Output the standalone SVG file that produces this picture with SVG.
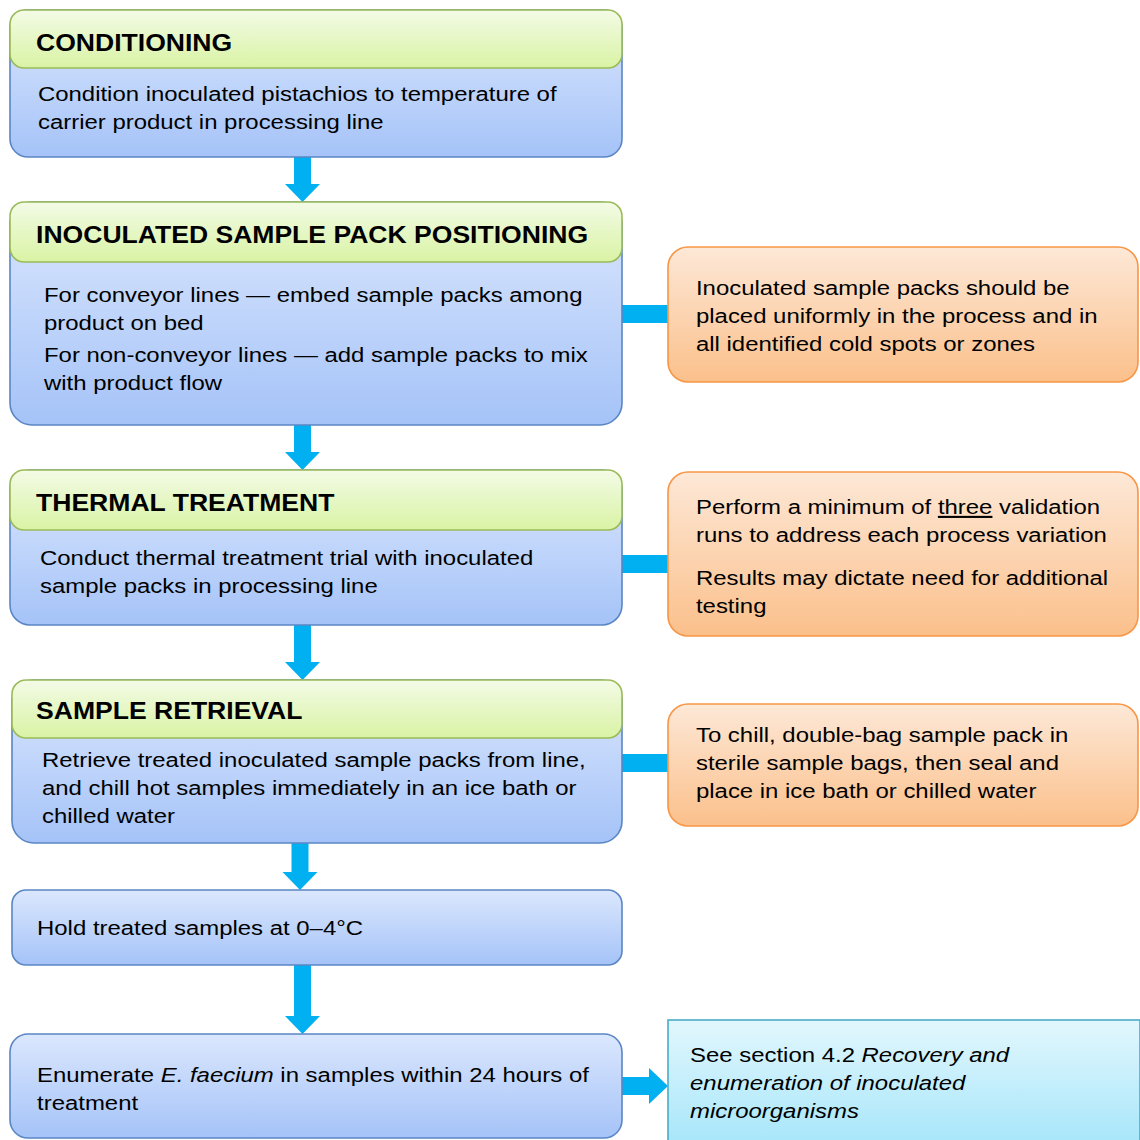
<svg xmlns="http://www.w3.org/2000/svg" width="1140" height="1140" viewBox="0 0 1140 1140">
<defs>
<linearGradient id="gBlue" x1="0" y1="0" x2="0" y2="1"><stop offset="0" stop-color="#dbe7fd"/><stop offset="1" stop-color="#a5c3f8"/></linearGradient>
<linearGradient id="gGreen" x1="0" y1="0" x2="0" y2="1"><stop offset="0" stop-color="#f3fbe6"/><stop offset="1" stop-color="#d9f3a4"/></linearGradient>
<linearGradient id="gOrange" x1="0" y1="0" x2="0" y2="1"><stop offset="0" stop-color="#fde8d7"/><stop offset="1" stop-color="#fbc08b"/></linearGradient>
<linearGradient id="gCyan" x1="0" y1="0" x2="0" y2="1"><stop offset="0" stop-color="#e2f7fd"/><stop offset="1" stop-color="#a7e6fa"/></linearGradient>
</defs>
<style>
.body{fill:url(#gBlue);stroke:#5a86c4;stroke-width:1.6}
.head{fill:url(#gGreen);stroke:#9bbb59;stroke-width:1.6}
.note{fill:url(#gOrange);stroke:#f79646;stroke-width:1.6}
.ref{fill:url(#gCyan);stroke:#4bacc6;stroke-width:1.6}
.arr{fill:#00b0f0}
text{font-family:"Liberation Sans",Arial,sans-serif;fill:#000}
.t{font-size:21px}
.h{font-size:23.3px;font-weight:bold}
</style>
<rect width="1140" height="1140" fill="#fff"/>
<g id="connectors">
<polygon class="arr" points="294,157 311,157 311,184 320,184 302.5,202 285,184 294,184"/>
<polygon class="arr" points="294,425 311,425 311,452 320,452 302.5,470 285,452 294,452"/>
<polygon class="arr" points="294,624 311,624 311,662 320,662 302.5,680 285,662 294,662"/>
<polygon class="arr" points="291.5,843 308.5,843 308.5,872 317.5,872 300,890 282.5,872 291.5,872"/>
<polygon class="arr" points="294,965 311,965 311,1016 320,1016 302.5,1034 285,1016 294,1016"/>
<rect class="arr" x="621" y="305" width="48" height="18"/>
<rect class="arr" x="621" y="555" width="48" height="18"/>
<rect class="arr" x="621" y="754" width="48" height="18"/>
<polygon class="arr" points="621,1077 649,1077 649,1068 668,1086 649,1104 649,1095 621,1095"/>
</g>
<g id="n1">
<rect class="body" x="10" y="10" width="612" height="147" rx="18"/>
<rect class="head" x="10" y="10" width="612" height="58" rx="14"/>
<g transform="scale(1.14 1)">
<text class="h" x="31.6" y="51">CONDITIONING</text>
<text class="t" x="33.3" y="101">Condition inoculated pistachios to temperature of</text>
<text class="t" x="33.3" y="129">carrier product in processing line</text>
</g>
</g>
<g id="n2">
<rect class="body" x="10" y="202" width="612" height="223" rx="22"/>
<rect class="head" x="10" y="202" width="612" height="60" rx="14"/>
<g transform="scale(1.14 1)">
<text class="h" x="31.6" y="243">INOCULATED SAMPLE PACK POSITIONING</text>
<text class="t" x="38.6" y="302">For conveyor lines — embed sample packs among</text>
<text class="t" x="38.6" y="330">product on bed</text>
<text class="t" x="38.6" y="362">For non-conveyor lines — add sample packs to mix</text>
<text class="t" x="38.6" y="390">with product flow</text>
</g>
</g>
<g id="n2note">
<rect class="note" x="668" y="247" width="470" height="135" rx="20"/>
<g transform="scale(1.14 1)">
<text class="t" x="610.5" y="295">Inoculated sample packs should be</text>
<text class="t" x="610.5" y="323">placed uniformly in the process and in</text>
<text class="t" x="610.5" y="351">all identified cold spots or zones</text>
</g>
</g>
<g id="n3">
<rect class="body" x="10" y="470" width="612" height="155" rx="20"/>
<rect class="head" x="10" y="470" width="612" height="60" rx="14"/>
<g transform="scale(1.14 1)">
<text class="h" x="31.6" y="511">THERMAL TREATMENT</text>
<text class="t" x="35.1" y="565">Conduct thermal treatment trial with inoculated</text>
<text class="t" x="35.1" y="593">sample packs in processing line</text>
</g>
</g>
<g id="n3note">
<rect class="note" x="668" y="472" width="470" height="164" rx="20"/>
<g transform="scale(1.14 1)">
<text class="t" x="610.5" y="514">Perform a minimum of <tspan text-decoration="underline">three</tspan> validation</text>
<text class="t" x="610.5" y="542">runs to address each process variation</text>
<text class="t" x="610.5" y="585">Results may dictate need for additional</text>
<text class="t" x="610.5" y="613">testing</text>
</g>
</g>
<g id="n4">
<rect class="body" x="12" y="680" width="610" height="163" rx="22"/>
<rect class="head" x="12" y="680" width="610" height="58" rx="14"/>
<g transform="scale(1.14 1)">
<text class="h" x="31.6" y="719">SAMPLE RETRIEVAL</text>
<text class="t" x="36.8" y="767">Retrieve treated inoculated sample packs from line,</text>
<text class="t" x="36.8" y="795">and chill hot samples immediately in an ice bath or</text>
<text class="t" x="36.8" y="823">chilled water</text>
</g>
</g>
<g id="n4note">
<rect class="note" x="668" y="704" width="470" height="122" rx="20"/>
<g transform="scale(1.14 1)">
<text class="t" x="610.5" y="742">To chill, double-bag sample pack in</text>
<text class="t" x="610.5" y="770">sterile sample bags, then seal and</text>
<text class="t" x="610.5" y="798">place in ice bath or chilled water</text>
</g>
</g>
<g id="n5">
<rect class="body" x="12" y="890" width="610" height="75" rx="14"/>
<g transform="scale(1.14 1)">
<text class="t" x="32.5" y="935">Hold treated samples at 0–4°C</text>
</g>
</g>
<g id="n6">
<rect class="body" x="10" y="1034" width="612" height="104" rx="18"/>
<g transform="scale(1.14 1)">
<text class="t" x="32.5" y="1082">Enumerate <tspan font-style="italic">E. faecium</tspan> in samples within 24 hours of</text>
<text class="t" x="32.5" y="1110">treatment</text>
</g>
</g>
<g id="n6ref">
<rect class="ref" x="668" y="1020" width="472" height="125"/>
<g transform="scale(1.14 1)">
<text class="t" x="605.3" y="1062">See section 4.2 <tspan font-style="italic">Recovery and</tspan></text>
<text class="t" x="605.3" y="1090" font-style="italic">enumeration of inoculated</text>
<text class="t" x="605.3" y="1118" font-style="italic">microorganisms</text>
</g>
</g>
</svg>
